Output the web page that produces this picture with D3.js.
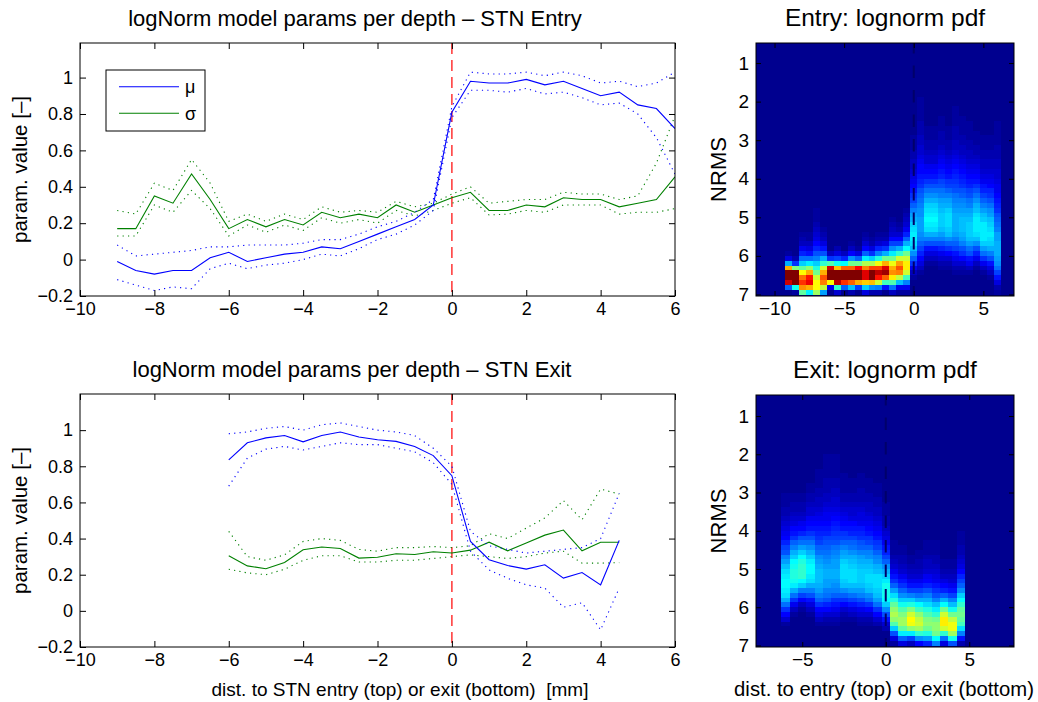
<!DOCTYPE html>
<html>
<head>
<meta charset="utf-8">
<script src="https://cdn.jsdelivr.net/npm/d3@7"></script>
<style>
  body { margin: 0; background: #fff; }
  svg text { font-family: "Liberation Sans", Arial, Helvetica, sans-serif; fill: #000; }
</style>
</head>
<body>
<div class="chart"></div>
<script>
const width = 1038;
const height = 702;

// ---- data ----
// STN entry: depth (mm) and fitted lognormal params with their bounds
const entryDepth = [-9, -8.5, -8, -7.5, -7, -6.5, -6, -5.5, -5, -4.5, -4, -3.5, -3, -2.5, -2, -1.5,
                    -1, -0.5, 0, 0.5, 1, 1.5, 2, 2.5, 3, 3.5, 4, 4.5, 5, 5.5, 6];
const entryMu = [-0.01, -0.06, -0.08, -0.06, -0.06, 0.01, 0.04, -0.01, 0.01, 0.03, 0.04, 0.07, 0.06, 0.10, 0.14, 0.18,
                 0.22, 0.30, 0.81, 0.98, 0.97, 0.97, 0.99, 0.96, 0.98, 0.94, 0.90, 0.92, 0.85, 0.83, 0.72];
const entryMuHi = [0.08, 0.02, 0.03, 0.04, 0.05, 0.07, 0.07, 0.08, 0.08, 0.08, 0.09, 0.11, 0.11, 0.14, 0.18, 0.21,
                   0.26, 0.33, 0.84, 1.03, 1.02, 1.02, 1.03, 1.01, 1.03, 1.01, 0.97, 0.98, 0.95, 0.97, 1.03];
const entryMuLo = [-0.11, -0.14, -0.17, -0.15, -0.16, -0.05, -0.02, -0.05, -0.03, -0.02, 0.00, 0.03, 0.02, 0.06, 0.11, 0.14,
                   0.19, 0.27, 0.78, 0.93, 0.93, 0.92, 0.94, 0.91, 0.92, 0.89, 0.85, 0.86, 0.80, 0.67, 0.47];
const entrySigma = [0.17, 0.17, 0.35, 0.31, 0.47, 0.33, 0.17, 0.22, 0.18, 0.22, 0.19, 0.26, 0.23, 0.25, 0.23, 0.30,
                    0.26, 0.30, 0.34, 0.37, 0.27, 0.27, 0.30, 0.29, 0.34, 0.33, 0.33, 0.29, 0.31, 0.33, 0.455];
const entrySigmaHi = [0.27, 0.25, 0.42, 0.38, 0.55, 0.42, 0.21, 0.25, 0.21, 0.25, 0.22, 0.29, 0.26, 0.27, 0.26, 0.32,
                      0.29, 0.31, 0.36, 0.40, 0.31, 0.32, 0.33, 0.33, 0.37, 0.36, 0.36, 0.33, 0.35, 0.53, 0.79];
const entrySigmaLo = [0.13, 0.13, 0.30, 0.26, 0.38, 0.28, 0.13, 0.19, 0.15, 0.19, 0.16, 0.23, 0.20, 0.22, 0.20, 0.27,
                      0.24, 0.27, 0.31, 0.34, 0.245, 0.25, 0.27, 0.26, 0.30, 0.30, 0.30, 0.25, 0.26, 0.26, 0.28];

// STN exit
const exitDepth = [-6, -5.5, -5, -4.5, -4, -3.5, -3, -2.5, -2, -1.5, -1, -0.5, 0, 0.5, 1, 1.5, 2, 2.5, 3, 3.5, 4, 4.5];
const exitMu = [0.835, 0.93, 0.957, 0.97, 0.935, 0.97, 0.99, 0.962, 0.947, 0.938, 0.91, 0.859,
                0.748, 0.384, 0.283, 0.251, 0.231, 0.255, 0.181, 0.212, 0.144, 0.39];
const exitMuHi = [0.98, 0.99, 1.01, 1.02, 1.00, 1.03, 1.04, 1.02, 1.00, 0.99, 0.97, 0.90,
                  0.80, 0.44, 0.36, 0.34, 0.32, 0.33, 0.34, 0.35, 0.40, 0.65];
const exitMuLo = [0.69, 0.845, 0.895, 0.91, 0.89, 0.91, 0.93, 0.92, 0.92, 0.90, 0.88, 0.82,
                  0.70, 0.33, 0.227, 0.18, 0.144, 0.126, 0.02, 0.045, -0.105, 0.126];
const exitSigma = [0.305, 0.249, 0.233, 0.268, 0.338, 0.353, 0.345, 0.292, 0.297, 0.316, 0.312, 0.327,
                   0.32, 0.336, 0.38, 0.332, 0.375, 0.419, 0.447, 0.332, 0.38, 0.38];
const exitSigmaHi = [0.44, 0.30, 0.28, 0.31, 0.384, 0.40, 0.39, 0.34, 0.33, 0.35, 0.35, 0.356,
                     0.35, 0.36, 0.427, 0.40, 0.458, 0.514, 0.61, 0.504, 0.674, 0.646];
const exitSigmaLo = [0.23, 0.21, 0.20, 0.23, 0.28, 0.305, 0.305, 0.27, 0.27, 0.28, 0.28, 0.29,
                     0.30, 0.31, 0.30, 0.29, 0.30, 0.32, 0.33, 0.264, 0.264, 0.267];

// tick labels
const lineXTicks = [-10, -8, -6, -4, -2, 0, 2, 4, 6];
const lineYTicks = [-0.2, 0, 0.2, 0.4, 0.6, 0.8, 1];
const entryMapXTicks = [-10, -5, 0, 5];
const exitMapXTicks = [-5, 0, 5];
const nrmsTicks = [1, 2, 3, 4, 5, 6, 7];
const legendLabels = ["\u03bc", "\u03c3"];

// NRMS grid of the pdf images (bin centres, displayed upside down as in the original)
const nrmsGrid = d3.range(52).map(k => 0.5625 + k * 0.125);
const colorMax = 1.6;

// ---- helpers ----
const fmt = d => String(d).replace("-", "\u2212");

// MATLAB jet(64)
function jet64() {
  const m = 64, n = 16;
  const u = [...d3.range(1, n + 1).map(i => i / n), ...Array(n - 1).fill(1), ...d3.range(n, 0, -1).map(i => i / n)];
  const J = d3.range(m).map(() => [0, 0, 0]);
  u.forEach((v, i) => {
    const gi = 9 + i, ri = gi + n, bi = gi - n;
    if (ri <= m) J[ri - 1][0] = v;
    if (gi <= m) J[gi - 1][1] = v;
    if (bi >= 1) J[bi - 1][2] = v;
  });
  return J.map(c => d3.rgb(c[0] * 255, c[1] * 255, c[2] * 255).formatHex());
}
const jet = jet64();
const jetColor = v => jet[Math.max(0, Math.min(63, Math.floor(v / colorMax * 64)))];

function lognpdf(x, mu, s) {
  const z = (Math.log(x) - mu) / s;
  return Math.exp(-0.5 * z * z) / (x * s * Math.sqrt(2 * Math.PI));
}

const svg = d3.select(".chart")
  .append("svg")
  .attr("width", width)
  .attr("height", height)
  .style("background", "#fff");

let clipId = 0;

function drawAxes(g, x, y, xTicks, yTicks, tickLen, fontSize) {
  const [yb, yt] = y.range();
  const [xl, xr] = x.range();

  const axes = [
    g.append("g").attr("transform", `translate(0,${yb})`)
      .call(d3.axisBottom(x).tickValues(xTicks).tickSizeInner(-tickLen).tickSizeOuter(0).tickPadding(6).tickFormat(fmt)),
    g.append("g").attr("transform", `translate(0,${yt})`)
      .call(d3.axisTop(x).tickValues(xTicks).tickSizeInner(-tickLen).tickSizeOuter(0).tickFormat("")),
    g.append("g").attr("transform", `translate(${xl},0)`)
      .call(d3.axisLeft(y).tickValues(yTicks).tickSizeInner(-tickLen).tickSizeOuter(0).tickPadding(7).tickFormat(fmt)),
    g.append("g").attr("transform", `translate(${xr},0)`)
      .call(d3.axisRight(y).tickValues(yTicks).tickSizeInner(-tickLen).tickSizeOuter(0).tickFormat(""))
  ];
  axes.forEach(a => {
    a.attr("font-family", null).attr("font-size", fontSize);
    a.select(".domain").remove();
    a.selectAll(".tick line").attr("stroke", "#000");
  });

  g.append("rect")
    .attr("x", xl).attr("y", yt)
    .attr("width", xr - xl).attr("height", yb - yt)
    .attr("fill", "none").attr("stroke", "#000").attr("stroke-width", 1);
}

function clipFor(g, x, y) {
  const id = "clip" + (clipId++);
  g.append("clipPath").attr("id", id)
    .append("rect")
    .attr("x", x.range()[0]).attr("y", y.range()[1])
    .attr("width", x.range()[1] - x.range()[0])
    .attr("height", y.range()[0] - y.range()[1]);
  return `url(#${id})`;
}

// ---- line panels ----
function linePanel(box, depth, series, title) {
  const g = svg.append("g");
  const x = d3.scaleLinear().domain([-10, 6]).range([box.x0, box.x1]);
  const y = d3.scaleLinear().domain(box.yDom).range([box.y1, box.y0]);

  const plot = g.append("g").attr("clip-path", clipFor(g, x, y));

  // STN border
  plot.append("line")
    .attr("x1", x(0)).attr("x2", x(0))
    .attr("y1", y.range()[1]).attr("y2", y.range()[0])
    .attr("stroke", "#ff4040").attr("stroke-width", 1.6)
    .attr("stroke-dasharray", "11,6");

  const line = vals => d3.line().x((d, i) => x(depth[i])).y(d => y(d))(vals);

  series.forEach(s => {
    [s.lo, s.hi].forEach(b => {
      plot.append("path")
        .attr("d", line(b))
        .attr("fill", "none").attr("stroke", s.color)
        .attr("stroke-width", 1.1).attr("stroke-dasharray", "1.2,4.2");
    });
    plot.append("path")
      .attr("d", line(s.mid))
      .attr("fill", "none").attr("stroke", s.color).attr("stroke-width", 1.1);
  });

  drawAxes(g, x, y, lineXTicks, lineYTicks, 6, 18);

  g.append("text")
    .attr("x", box.titleX).attr("y", box.y0 - 17)
    .attr("text-anchor", "middle").attr("font-size", 22)
    .text(title);

  g.append("text")
    .attr("transform", `translate(20,${(box.y0 + box.y1) / 2}) rotate(-90)`)
    .attr("text-anchor", "middle").attr("dy", "0.35em").attr("font-size", 20.5)
    .text("param. value [\u2013]");

  return { g, x, y };
}

const colors = { mu: "#0000ff", sigma: "#008000" };

const entryPanel = linePanel(
  { x0: 80, x1: 675, y0: 43, y1: 296, yDom: [-0.2, 1.19], titleX: 355 },
  entryDepth,
  [
    { mid: entrySigma, lo: entrySigmaLo, hi: entrySigmaHi, color: colors.sigma },
    { mid: entryMu, lo: entryMuLo, hi: entryMuHi, color: colors.mu }
  ],
  "logNorm model params per depth \u2013 STN Entry"
);

const exitPanel = linePanel(
  { x0: 80, x1: 675, y0: 394, y1: 647, yDom: [-0.2, 1.2], titleX: 352 },
  exitDepth,
  [
    { mid: exitSigma, lo: exitSigmaLo, hi: exitSigmaHi, color: colors.sigma },
    { mid: exitMu, lo: exitMuLo, hi: exitMuHi, color: colors.mu }
  ],
  "logNorm model params per depth \u2013 STN Exit"
);

// legend
const legend = entryPanel.g.append("g").attr("transform", "translate(106,70)");
legend.append("rect")
  .attr("width", 99).attr("height", 61)
  .attr("fill", "#fff").attr("stroke", "#000").attr("stroke-width", 1);
legend.selectAll("g.item")
  .data(legendLabels)
  .enter()
  .append("g")
  .attr("class", "item")
  .attr("transform", (d, i) => `translate(0,${16.7 + i * 26.6})`)
  .each(function (d, i) {
    const it = d3.select(this);
    it.append("line").attr("x1", 13).attr("x2", 73)
      .attr("stroke", i === 0 ? colors.mu : colors.sigma).attr("stroke-width", 1.1);
    it.append("text").attr("x", 79).attr("dy", "0.35em").attr("font-size", 18).text(d);
  });

exitPanel.g.append("text")
  .attr("x", 400).attr("y", 696)
  .attr("text-anchor", "middle").attr("font-size", 19)
  .style("white-space", "pre")
  .text("dist. to STN entry (top) or exit (bottom)  [mm]");

// ---- pdf image panels ----
function pdfPanel(box, depth, mu, sigma, xTicks, title, xlabel) {
  const g = svg.append("g");
  const x = d3.scaleLinear().domain(box.xDom).range([756, 1014]);
  const y = d3.scaleLinear().domain(box.yDom).range([box.y1, box.y0]);
  // NRMS axis runs downward
  const yv = d3.scaleLinear().domain(box.yDom).range([box.y0, box.y1]);

  const plot = g.append("g").attr("clip-path", clipFor(g, x, y));
  plot.append("rect")
    .attr("x", 756).attr("y", box.y0)
    .attr("width", 1014 - 756).attr("height", box.y1 - box.y0)
    .attr("fill", jet[0]);

  const cells = [];
  depth.forEach((d, i) => {
    nrmsGrid.forEach(n => {
      cells.push({ d, n, v: lognpdf(7.5 - n, mu[i], sigma[i]) });
    });
  });

  plot.selectAll("rect.cell")
    .data(cells)
    .enter()
    .append("rect")
    .attr("class", "cell")
    .attr("x", c => x(c.d - 0.25))
    .attr("width", c => x(c.d + 0.25) - x(c.d - 0.25))
    .attr("y", c => yv(c.n - 0.0625))
    .attr("height", c => yv(c.n + 0.0625) - yv(c.n - 0.0625) + 0.3)
    .attr("fill", c => jetColor(c.v))
    .attr("shape-rendering", "crispEdges");

  plot.append("line")
    .attr("x1", x(0)).attr("x2", x(0))
    .attr("y1", box.y0).attr("y2", box.y1)
    .attr("stroke", "#00006a").attr("stroke-width", 2)
    .attr("stroke-dasharray", "12.5,12").attr("stroke-dashoffset", 2);

  // axes (y inverted for labels)
  const gAx = g.append("g");
  const [xl, xr] = x.range();
  const axes = [
    gAx.append("g").attr("transform", `translate(0,${box.y1})`)
      .call(d3.axisBottom(x).tickValues(xTicks).tickSizeInner(-5).tickSizeOuter(0).tickPadding(6).tickFormat(fmt)),
    gAx.append("g").attr("transform", `translate(0,${box.y0})`)
      .call(d3.axisTop(x).tickValues(xTicks).tickSizeInner(-5).tickSizeOuter(0).tickFormat("")),
    gAx.append("g").attr("transform", `translate(${xl},0)`)
      .call(d3.axisLeft(yv).tickValues(nrmsTicks).tickSizeInner(-5).tickSizeOuter(0).tickPadding(7).tickFormat(fmt)),
    gAx.append("g").attr("transform", `translate(${xr},0)`)
      .call(d3.axisRight(yv).tickValues(nrmsTicks).tickSizeInner(-5).tickSizeOuter(0).tickFormat(""))
  ];
  axes.forEach(a => {
    a.attr("font-family", null).attr("font-size", 19);
    a.select(".domain").remove();
    a.selectAll(".tick line").attr("stroke", "#000");
  });
  gAx.append("rect")
    .attr("x", xl).attr("y", box.y0)
    .attr("width", xr - xl).attr("height", box.y1 - box.y0)
    .attr("fill", "none").attr("stroke", "#000").attr("stroke-width", 1);

  g.append("text")
    .attr("x", 885).attr("y", box.y0 - 17)
    .attr("text-anchor", "middle").attr("font-size", 24.5)
    .text(title);

  g.append("text")
    .attr("transform", `translate(718,${(box.y0 + box.y1) / 2}) rotate(-90)`)
    .attr("text-anchor", "middle").attr("dy", "0.35em").attr("font-size", 22)
    .text("NRMS");

  if (xlabel) {
    g.append("text")
      .attr("x", 884).attr("y", 696)
      .attr("text-anchor", "middle").attr("font-size", 20.3)
      .text(xlabel);
  }
}

pdfPanel({ xDom: [-11.33, 7.2], yDom: [0.48, 7.04], y0: 43, y1: 296 },
  entryDepth, entryMu, entrySigma, entryMapXTicks, "Entry: lognorm pdf", null);

pdfPanel({ xDom: [-7.77, 7.68], yDom: [0.45, 7.04], y0: 395, y1: 647 },
  exitDepth, exitMu, exitSigma, exitMapXTicks, "Exit: lognorm pdf", "dist. to entry (top) or exit (bottom)");
</script>
</body>
</html>
